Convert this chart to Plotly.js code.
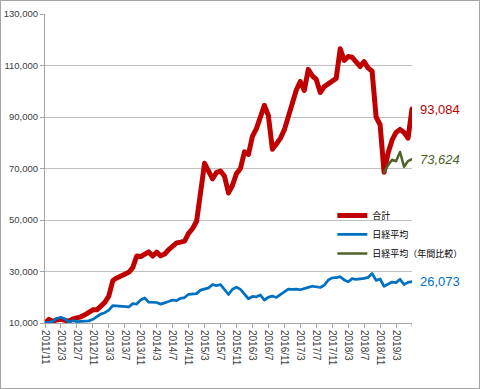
<!DOCTYPE html>
<html><head><meta charset="utf-8">
<script src="https://cdn.plot.ly/plotly-3.0.1.min.js"></script>
<style>
html,body{margin:0;padding:0;background:#fff;}
#wrap{position:relative;width:480px;height:389px;overflow:hidden;}
#chart{width:480px;height:389px;}
#frame{position:absolute;left:0;top:0;width:480px;height:389px;box-sizing:border-box;border:1px solid #a6a6a6;pointer-events:none;}
.scatterlayer path.js-line{stroke-linejoin:round;stroke-linecap:round;}
</style></head>
<body><div id="wrap"><div id="chart"></div><div id="frame"></div></div>
<script>
const months = [
 "2011/11","2011/12",
 "2012/1","2012/2","2012/3","2012/4","2012/5","2012/6","2012/7","2012/8","2012/9","2012/10","2012/11","2012/12",
 "2013/1","2013/2","2013/3","2013/4","2013/5","2013/6","2013/7","2013/8","2013/9","2013/10","2013/11","2013/12",
 "2014/1","2014/2","2014/3","2014/4","2014/5","2014/6","2014/7","2014/8","2014/9","2014/10","2014/11","2014/12",
 "2015/1","2015/2","2015/3","2015/4","2015/5","2015/6","2015/7","2015/8","2015/9","2015/10","2015/11","2015/12",
 "2016/1","2016/2","2016/3","2016/4","2016/5","2016/6","2016/7","2016/8","2016/9","2016/10","2016/11","2016/12",
 "2017/1","2017/2","2017/3","2017/4","2017/5","2017/6","2017/7","2017/8","2017/9","2017/10","2017/11","2017/12",
 "2018/1","2018/2","2018/3","2018/4","2018/5","2018/6","2018/7","2018/8","2018/9","2018/10","2018/11","2018/12",
 "2019/1","2019/2","2019/3","2019/4","2019/5","2019/6","2019/7"
];

const total = [
 10000,11400,
 10600,11300,11400,11000,10700,11600,11900,12400,13200,14000,15100,15100,
 16700,18000,20500,26500,27500,28200,29000,29700,31500,36000,35800,37000,
 37600,36000,37500,36100,36800,38500,40000,41100,41400,41800,44800,46700,
 49500,60000,72000,69000,66000,68500,69000,67000,60500,63500,68000,70000,
 76500,75500,82500,85500,90500,94500,90500,77500,79500,81700,85000,90000,
 94500,100500,103800,100300,108500,106000,104600,99500,101800,102800,103600,105000,
 116500,112000,113500,113200,111400,109600,111500,109000,107800,90000,87000,68500,
 76000,81000,84000,85200,84000,81800,93084
];

const nikkei = [
 10200,10240,
 10660,11780,12220,11530,10350,10910,10530,10710,10750,10820,11440,12590,
 13490,14000,15020,16790,16690,16570,16560,16220,17510,17360,18970,19740,
 18070,17980,17960,17330,17730,18370,18920,18690,19590,19880,21150,21140,
 21410,22770,23270,23650,24910,24520,24940,22890,21070,23120,23920,23060,
 21220,19420,20300,20190,20880,18870,20070,20460,19930,21110,22180,23160,
 23070,23160,22910,23260,23810,24270,24140,23800,24660,26670,27530,27580,
 27980,26740,25990,27220,26900,27020,27320,27700,29220,26560,27080,24250,
 25170,25910,25690,26970,24960,25780,26073
];

const yearMonths = ["2018/12","2019/1","2019/2","2019/3","2019/4","2019/5","2019/6","2019/7"];
const nikkeiYear = [68500,71300,73400,72800,76400,70700,72900,73624];

const seriesNames = ["合計","日経平均","日経平均（年間比較）"];
const yTicks = [10000,30000,50000,70000,90000,110000,130000];

const last = months.length - 1;
const xTickVals = [];
for (let i = 0; i < last; i += 4) { xTickVals.push(months[i]); }

const fmt = v => v.toLocaleString('en-US');

const traces = [
 {x: months, y: total, name: seriesNames[0], type:'scatter', mode:'lines',
  line:{color:'#C00000', width:5}},
 {x: months, y: nikkei, name: seriesNames[1], type:'scatter', mode:'lines',
  line:{color:'#0070C0', width:2.75}},
 {x: yearMonths, y: nikkeiYear, name: seriesNames[2], type:'scatter', mode:'lines',
  line:{color:'#4F6228', width:2.5}}
];

const layout = {
 width:480, height:389,
 margin:{l:45, r:56, t:14, b:66},
 paper_bgcolor:'#fff', plot_bgcolor:'#fff',
 font:{family:'Liberation Sans, Arial, sans-serif', size:10, color:'#404040'},
 showlegend:true,
 legend:{x:0.783, y:0.395, xanchor:'left', yanchor:'top', bgcolor:'rgba(0,0,0,0)',
   font:{family:'Noto Sans CJK JP', size:9, color:'#000'}, itemwidth:30, tracegroupgap:0},
 xaxis:{type:'category', range:[0, last], autorange:false,
   tickmode:'array', tickvals:xTickVals, ticktext:xTickVals, tickangle:90,
   ticks:'outside', ticklen:4, tickcolor:'#a6a6a6',
   showline:true, linecolor:'#a6a6a6', linewidth:1, showgrid:false, zeroline:false,
   tickfont:{size:10, color:'#404040'}},
 yaxis:{range:[10000,130000], autorange:false, tickmode:'array', tickvals:yTicks,
   ticktext:yTicks.map(fmt), ticks:'outside', ticklen:4, tickcolor:'#a6a6a6',
   showline:true, linecolor:'#a6a6a6', linewidth:1,
   showgrid:true, gridcolor:'#bfbfbf', gridwidth:1, zeroline:false,
   tickfont:{size:9.5, color:'#404040'}},
 shapes:[
  {type:'line', xref:'x', yref:'paper', x0:months[last], x1:months[last],
   ysizemode:'pixel', yanchor:0, y0:0, y1:-4, line:{color:'#a6a6a6', width:1}}
 ],
 annotations:[
  {x:months[last], y:total[last], xref:'x', yref:'y', text:fmt(total[last]), showarrow:false,
   xanchor:'left', yanchor:'middle', xshift:6, font:{size:13, color:'#C00000'}},
  {x:yearMonths[yearMonths.length-1], y:nikkeiYear[nikkeiYear.length-1], xref:'x', yref:'y',
   text:'<i>'+fmt(nikkeiYear[nikkeiYear.length-1])+'</i>', showarrow:false,
   xanchor:'left', yanchor:'middle', xshift:6, font:{size:13, color:'#4F6228'}},
  {x:months[last], y:nikkei[last], xref:'x', yref:'y', text:fmt(nikkei[last]), showarrow:false,
   xanchor:'left', yanchor:'middle', xshift:6, font:{size:13, color:'#0070C0'}}
 ]
};

Plotly.newPlot('chart', traces, layout, {staticPlot:true, displayModeBar:false});
</script></body></html>
